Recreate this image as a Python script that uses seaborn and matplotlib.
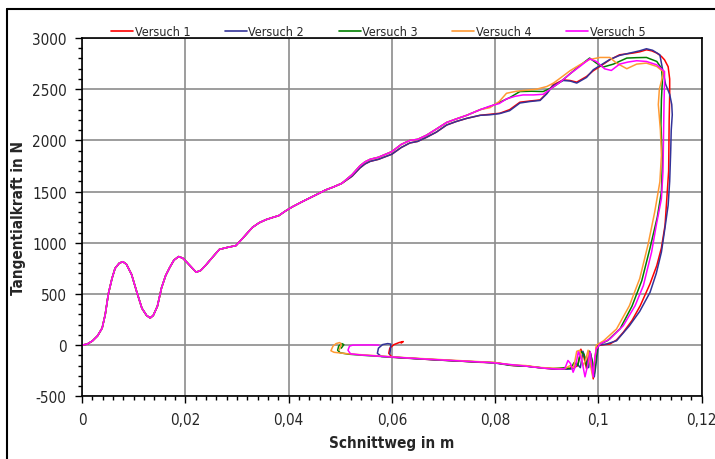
import pandas as pd
import matplotlib
matplotlib.use('Agg')
import matplotlib.pyplot as plt
import matplotlib.font_manager as fm
import seaborn as sns
from matplotlib.ticker import MultipleLocator, FuncFormatter
from matplotlib.lines import Line2D

sns.set_style('white')

# schmale Schrift, falls vorhanden
names = {f.name for f in fm.fontManager.ttflist}
condensed = [f for f in fm.fontManager.ttflist
             if f.name == 'DejaVu Sans' and 'ondensed' in f.fname]
if 'Liberation Sans Narrow' in names:
    plt.rcParams['font.family'] = ['Liberation Sans Narrow', 'DejaVu Sans']
    NARROW = True
elif condensed:
    plt.rcParams['font.family'] = ['DejaVu Sans']
    plt.rcParams['font.stretch'] = 'condensed'
    NARROW = True
else:
    plt.rcParams['font.family'] = ['Liberation Sans', 'DejaVu Sans']
    NARROW = False

# Gemeinsamer Anstieg (alle Versuche nahezu deckungsgleich)
RISE_X = [0, 0.001, 0.002, 0.003, 0.0039, 0.0045, 0.0051, 0.0058, 0.0064, 0.0072,
          0.0079, 0.0086, 0.0096, 0.0106, 0.0116, 0.0125, 0.0132, 0.0138, 0.0146,
          0.0154, 0.0162, 0.017, 0.0178, 0.0187, 0.0195, 0.0202, 0.0212, 0.0221,
          0.023, 0.024, 0.0253, 0.0266, 0.0282, 0.0298, 0.0311, 0.033, 0.0343,
          0.0356, 0.0368, 0.0381, 0.0394, 0.0407, 0.0426, 0.0446, 0.0458, 0.0471,
          0.0487, 0.0503]
RISE_Y = [0, 10, 40, 90, 166, 300, 500, 650, 750, 800,
          815, 790, 690, 520, 360, 290, 265, 290, 380,
          560, 680, 760, 830, 865, 850, 815, 760, 712,
          730, 783, 860, 935, 955, 972, 1043, 1150, 1195,
          1225, 1245, 1265, 1310, 1350, 1400, 1450, 1480, 1514,
          1545, 1580]

MID_X = [0.0523, 0.0538, 0.0548, 0.0558, 0.0574, 0.06, 0.0618, 0.0635, 0.065,
         0.0667, 0.0686, 0.0706, 0.0725, 0.0745, 0.0771]
MID_Y_HI = [1665, 1750, 1790, 1815, 1835, 1890, 1960, 2000, 2010,
            2050, 2110, 2175, 2210, 2245, 2300]
MID_Y_LO = [1650, 1730, 1770, 1795, 1815, 1865, 1930, 1975, 1990,
            2030, 2080, 2150, 2185, 2215, 2245]

# Versuch 1
V1_X = RISE_X + MID_X + [
    0.079, 0.0809, 0.0828, 0.0848, 0.0868, 0.0887, 0.09, 0.0912, 0.0932, 0.0945,
    0.0958, 0.0977, 0.099, 0.1003, 0.1022, 0.1041, 0.1067, 0.108, 0.1093, 0.1103,
    0.1113, 0.1122, 0.1128, 0.1135, 0.1138,
    0.1138, 0.1137, 0.1136, 0.1132, 0.1129, 0.1122, 0.1113, 0.11, 0.1081, 0.1065,
    0.1048, 0.1035, 0.1022, 0.1003,
    0.0996, 0.0992, 0.099, 0.0986, 0.0982, 0.0977, 0.0972, 0.0966, 0.096, 0.0953, 0.094,
    0.0926, 0.09, 0.0861, 0.0835, 0.08, 0.0771, 0.0745, 0.0706, 0.067, 0.064, 0.06,
    0.0594, 0.0596, 0.0604, 0.0614, 0.0622, 0.0618]
V1_Y = RISE_Y + MID_Y_LO + [
    2255, 2265, 2300, 2373, 2385, 2395, 2460, 2542, 2591, 2585,
    2569, 2624, 2680, 2722, 2787, 2836, 2853, 2865, 2885, 2875,
    2853, 2820, 2787, 2720, 2600,
    2444, 2200, 1700, 1400, 1170, 950, 777, 600, 385, 240,
    124, 50, 10, 0,
    -20, -200, -330, -150, -60, -230, -120, -40, -200, -220, -230,
    -235, -228, -205, -200, -172, -168, -160, -150, -140, -130, -118,
    -80, -30, 5, 25, 35, 20]

# Versuch 2
V2_X = RISE_X + MID_X + [
    0.079, 0.0809, 0.0828, 0.0848, 0.0868, 0.0887, 0.09, 0.0912, 0.0932, 0.0945,
    0.0958, 0.0977, 0.099, 0.1003, 0.1022, 0.1041, 0.1067, 0.108, 0.1093, 0.1105,
    0.1119, 0.1124, 0.113, 0.1138, 0.1142,
    0.1143, 0.1141, 0.114, 0.1138, 0.1135, 0.1129, 0.1122, 0.1112, 0.11, 0.108,
    0.106, 0.1045, 0.1035, 0.1015, 0.1,
    0.0998, 0.0995, 0.0992, 0.0989, 0.0985, 0.0981, 0.0976, 0.097, 0.0965, 0.0958,
    0.095, 0.094,
    0.0915, 0.089, 0.086, 0.083, 0.08, 0.077, 0.074, 0.0706, 0.067, 0.063, 0.06, 0.058,
    0.0572, 0.0574, 0.0582, 0.0592, 0.0598, 0.0597, 0.0596]
V2_Y = RISE_Y + MID_Y_LO + [
    2250, 2262, 2290, 2365, 2380, 2390, 2455, 2535, 2585, 2580,
    2560, 2615, 2690, 2730, 2790, 2830, 2860, 2875, 2895, 2880,
    2836, 2700, 2550, 2450, 2350,
    2250, 2100, 1900, 1600, 1366, 1150, 909, 700, 516, 330,
    189, 100, 42, 10, 0,
    -80, -200, -310, -200, -80, -220, -150, -60, -220, -180,
    -230, -235,
    -232, -222, -205, -198, -175, -165, -158, -150, -140, -128, -118, -112,
    -80, -30, 5, 15, 10, -50, -90]

# Versuch 3
V3_X = RISE_X + MID_X + [
    0.079, 0.0808, 0.0829, 0.0848, 0.087, 0.0893, 0.0912, 0.0926, 0.0945, 0.0964,
    0.0983, 0.0996, 0.1009, 0.1029, 0.1055, 0.1074, 0.1093, 0.1113, 0.1122,
    0.1124, 0.1122, 0.1121, 0.1124, 0.1122, 0.1114, 0.11, 0.1084, 0.1065, 0.1042,
    0.1018, 0.0999,
    0.0996, 0.0992, 0.0988, 0.0983, 0.0978, 0.0972, 0.0966, 0.096, 0.0953, 0.0946,
    0.0935,
    0.091, 0.0885, 0.086, 0.083, 0.08, 0.077, 0.074, 0.0706, 0.067, 0.063, 0.06,
    0.057, 0.054, 0.0515, 0.05,
    0.0495, 0.0497, 0.0503, 0.0507, 0.0502]
V3_Y = RISE_Y + MID_Y_HI + [
    2330, 2370, 2420, 2477, 2480, 2477, 2520, 2569, 2650, 2730,
    2804, 2755, 2716, 2745, 2804, 2808, 2810, 2771, 2706,
    2600, 2400, 2150, 1800, 1500, 1250, 950, 630, 380, 160,
    45, 0,
    -100, -280, -150, -60, -220, -90, -60, -200, -170, -230,
    -220,
    -230, -220, -205, -195, -172, -165, -158, -148, -138, -126, -116,
    -108, -98, -88, -75,
    -50, -10, 15, 5, -30]

# Versuch 4
V4_X = RISE_X + MID_X + [
    0.079, 0.0808, 0.0822, 0.0841, 0.086, 0.088, 0.09, 0.0913, 0.0926, 0.0945,
    0.0964, 0.0983, 0.1003, 0.1022, 0.1035, 0.1055, 0.1074, 0.1093, 0.1113, 0.1125,
    0.1125, 0.1118, 0.1116, 0.112, 0.1122, 0.1119, 0.1109, 0.1096, 0.108, 0.106,
    0.1035, 0.101, 0.0996,
    0.0993, 0.0989, 0.0984, 0.098, 0.0975, 0.097, 0.0964, 0.0958, 0.0952, 0.0945,
    0.0935,
    0.091, 0.0885, 0.086, 0.083, 0.08, 0.077, 0.074, 0.0706, 0.067, 0.063, 0.06,
    0.057, 0.054, 0.0515, 0.0488,
    0.0482, 0.0486, 0.0492, 0.0499, 0.0502, 0.0498]
V4_Y = RISE_Y + MID_Y_HI + [
    2320, 2380, 2460, 2480, 2490, 2500, 2526, 2560, 2608, 2680,
    2738, 2790, 2810, 2810, 2755, 2700, 2745, 2755, 2722, 2673,
    2640, 2500, 2350, 2100, 1856, 1595, 1300, 980, 650, 385,
    157, 42, 0,
    -150, -310, -180, -50, -150, -200, -50, -60, -220, -200,
    -230,
    -225, -218, -200, -192, -170, -162, -155, -146, -136, -124, -114,
    -104, -95, -85, -70,
    -55, -10, 15, 25, 10, -50]

# Versuch 5
V5_X = RISE_X + MID_X + [
    0.079, 0.0808, 0.0822, 0.0838, 0.0854, 0.0874, 0.0893, 0.0912, 0.0926, 0.0945,
    0.0964, 0.0983, 0.0996, 0.1012, 0.1025, 0.1041, 0.1057, 0.1074, 0.1093, 0.1113,
    0.1128,
    0.1128, 0.1127, 0.1126, 0.1125, 0.1122, 0.1112, 0.1103, 0.1087, 0.1071, 0.1048,
    0.1022, 0.1003, 0.0996,
    0.0993, 0.099, 0.0987, 0.0984, 0.0979, 0.0974, 0.0968, 0.0961, 0.0956, 0.0951,
    0.0946, 0.0941, 0.0935, 0.0925,
    0.09, 0.0875, 0.085, 0.082, 0.079, 0.076, 0.073, 0.0706, 0.067, 0.063, 0.06,
    0.057, 0.054, 0.052,
    0.0515, 0.0518, 0.0524, 0.056, 0.0575]
V5_Y = RISE_Y + MID_Y_HI + [
    2335, 2360, 2405, 2430, 2444, 2444, 2450, 2520, 2569, 2650,
    2722, 2797, 2771, 2699, 2683, 2745, 2765, 2778, 2771, 2738,
    2673,
    2575, 2346, 2000, 1693, 1431, 1170, 909, 581, 385, 189,
    59, 10, -39,
    -130, -310, -200, -65, -200, -310, -150, -65, -200, -265,
    -180, -150, -229, -235,
    -228, -215, -200, -185, -170, -162, -155, -148, -138, -126, -116,
    -106, -96, -85,
    -50, -10, 0, 2, 0]

SERIES = ['Versuch 1', 'Versuch 2', 'Versuch 3', 'Versuch 4', 'Versuch 5']
COLORS = ['#FF0000', '#333399', '#008000', '#FF9933', '#FF00FF']

frames = []
for name, xs, ys in zip(SERIES, [V1_X, V2_X, V3_X, V4_X, V5_X],
                        [V1_Y, V2_Y, V3_Y, V4_Y, V5_Y]):
    frames.append(pd.DataFrame({'Schnittweg': xs, 'Kraft': ys, 'Versuch': name}))
df = pd.concat(frames, ignore_index=True)

fig = plt.figure(figsize=(7.15, 4.6), dpi=100)
ax = fig.add_axes([0.1147, 0.1363, 0.8667, 0.7789])

sns.lineplot(data=df, x='Schnittweg', y='Kraft', hue='Versuch', palette=COLORS,
             sort=False, estimator=None, linewidth=1.1, ax=ax, legend=False)

ax.set_xlim(0, 0.12)
ax.set_ylim(-500, 3000)
ax.xaxis.set_major_locator(MultipleLocator(0.02))
ax.xaxis.set_minor_locator(MultipleLocator(0.002))
ax.yaxis.set_major_locator(MultipleLocator(500))
ax.yaxis.set_minor_locator(MultipleLocator(100))
ax.xaxis.set_major_formatter(FuncFormatter(lambda v, p: f'{v:g}'.replace('.', ',')))
ax.yaxis.set_major_formatter(FuncFormatter(lambda v, p: f'{v:g}'))

tick_fs = 11 if NARROW else 10
leg_fs = 9 if NARROW else 8

ax.grid(True, which='major', color='#8c8c8c', linewidth=1.2)
ax.set_axisbelow(True)
for s in ax.spines.values():
    s.set_color('black')
    s.set_linewidth(1.2)
ax.tick_params(which='both', direction='out', bottom=True, left=True, top=False, right=False,
               color='black', width=1)
ax.tick_params(which='major', length=5, labelsize=tick_fs, pad=6)
ax.tick_params(which='minor', length=3)

ax.set_xlabel('Schnittweg in m', fontsize=11, fontweight='bold', labelpad=6)
ax.set_ylabel('Tangentialkraft in N', fontsize=11, fontweight='bold', labelpad=4)

handles = [Line2D([], [], color=c, linewidth=1.2) for c in COLORS]
fig.legend(handles, SERIES, loc='lower left', bbox_to_anchor=(111 / 715, 1 - 39 / 460),
           ncol=5, frameon=False, fontsize=leg_fs, handlelength=1.75, handletextpad=0.15,
           columnspacing=2.75, borderaxespad=0, borderpad=0)

# Rahmen um das Diagramm
fig.add_artist(Line2D([6.5 / 715, 6.5 / 715], [0, 1 - 9.5 / 460], color='black',
                      linewidth=1.5, transform=fig.transFigure))
fig.add_artist(Line2D([6.5 / 715, 1], [1 - 9.5 / 460, 1 - 9.5 / 460], color='black',
                      linewidth=1.5, transform=fig.transFigure))

fig.savefig('out.png', dpi=100)
